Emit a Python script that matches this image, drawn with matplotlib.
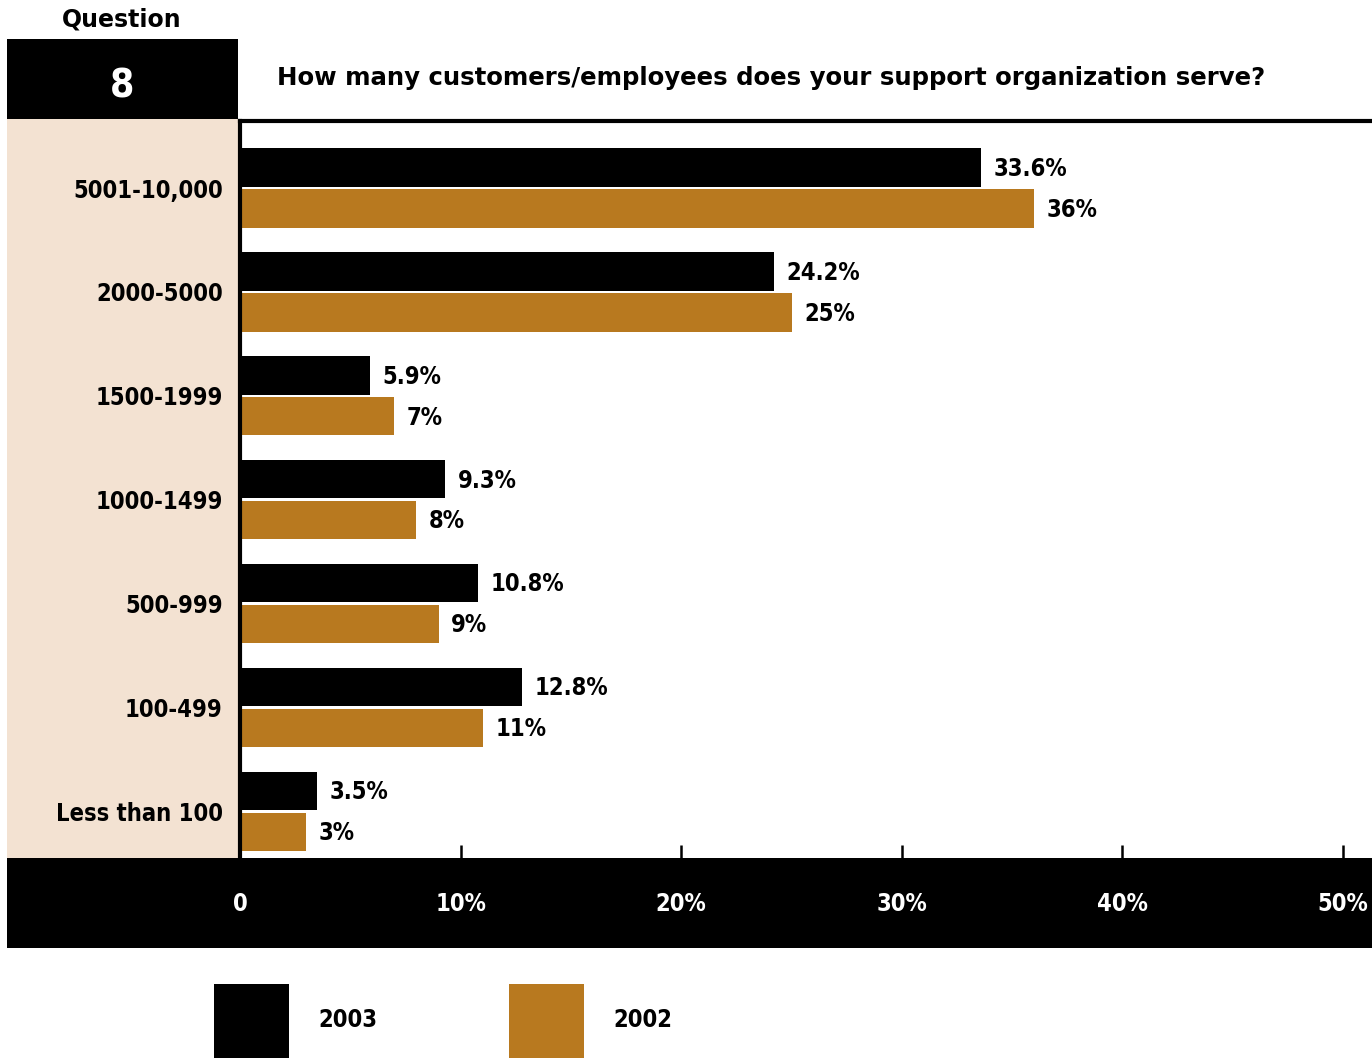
import matplotlib.pyplot as plt
from matplotlib.patches import Rectangle

# survey answers, top to bottom
categories = ["5001-10,000", "2000-5000", "1500-1999", "1000-1499",
              "500-999", "100-499", "Less than 100"]
values_2003 = [33.6, 24.2, 5.9, 9.3, 10.8, 12.8, 3.5]
values_2002 = [36, 25, 7, 8, 9, 11, 3]
labels_2003 = ["33.6%", "24.2%", "5.9%", "9.3%", "10.8%", "12.8%", "3.5%"]
labels_2002 = ["36%", "25%", "7%", "8%", "9%", "11%", "3%"]
series_names = ["2003", "2002"]
x_ticks = [0, 10, 20, 30, 40, 50]
x_tick_labels = ["0", "10%", "20%", "30%", "40%", "50%"]

question_no = "8"
question = "How many customers/employees does your support organization serve?"

BLACK = "#000000"
BROWN = "#B8791F"
BEIGE = "#F3E2D2"
NARROW = dict(family="DejaVu Sans", fontstretch="condensed", fontweight="bold")
FS = 17

W, H = 1372, 1058
fig = plt.figure(figsize=(W / 100, H / 100), dpi=100)


def box(x0, y0, x1, y1):
    # pixel box (top-left origin) -> figure fraction rect
    return [x0 / W, 1 - y1 / H, (x1 - x0) / W, (y1 - y0) / H]


def add_rect(x0, y0, x1, y1, color, z=-1):
    l, b, w, h = box(x0, y0, x1, y1)
    fig.add_artist(Rectangle((l, b), w, h, transform=fig.transFigure,
                             facecolor=color, edgecolor="none", zorder=z))


# header block and side panel
fig.text(122 / W, 1 - 20 / H, "Question", ha="center", va="center",
         fontsize=17, fontweight="bold", family="DejaVu Sans")
add_rect(7, 39, 238, 119, BLACK)
fig.text(122 / W, 1 - 86 / H, question_no, ha="center", va="center",
         fontsize=28, color="white", **NARROW)
fig.text(277 / W, 1 - 78 / H, question, ha="left", va="center",
         fontsize=17.6, fontweight="bold", family="DejaVu Sans")
add_rect(7, 119, 238, 858, BEIGE)
add_rect(7, 858, W, 948, BLACK)

# main bar axes
ax = fig.add_axes(box(240, 121, W, 858))
ax.set_facecolor("none")
x_right = 50 * (W - 240) / (1343 - 240)
ax.set_xlim(0, x_right)
ax.set_ylim(6.45, -0.645)

pos = list(range(len(categories)))
off = 0.197
h = 0.37
ax.barh([p - off for p in pos], values_2003, height=h, color=BLACK)
ax.barh([p + off for p in pos], values_2002, height=h, color=BROWN)

for p, v, lab in zip(pos, values_2003, labels_2003):
    ax.annotate(lab, (v, p - off), xytext=(9, -1), textcoords="offset points",
                ha="left", va="center", fontsize=FS, **NARROW)
for p, v, lab in zip(pos, values_2002, labels_2002):
    ax.annotate(lab, (v, p + off), xytext=(9, -1), textcoords="offset points",
                ha="left", va="center", fontsize=FS, **NARROW)

ax.set_yticks(pos)
ax.set_yticklabels(categories, fontsize=FS, **NARROW)
ax.tick_params(axis="y", length=0, pad=12.5)

ax.set_xticks(x_ticks)
ax.set_xticklabels(x_tick_labels, fontsize=FS, color="white", **NARROW)
ax.tick_params(axis="x", direction="in", length=9.5, width=1.8, pad=24.5)

for side in ["right", "bottom"]:
    ax.spines[side].set_visible(False)
ax.spines["left"].set_linewidth(3)
ax.spines["top"].set_linewidth(3)

# legend squares
for (x0, color), name in zip([(214, BLACK), (509, BROWN)], series_names):
    add_rect(x0, 984, x0 + 75, 1058, color)
    fig.text((x0 + 104) / W, 1 - 1020 / H, name, ha="left", va="center",
             fontsize=FS, **NARROW)

fig.savefig("out.png", dpi=100)
